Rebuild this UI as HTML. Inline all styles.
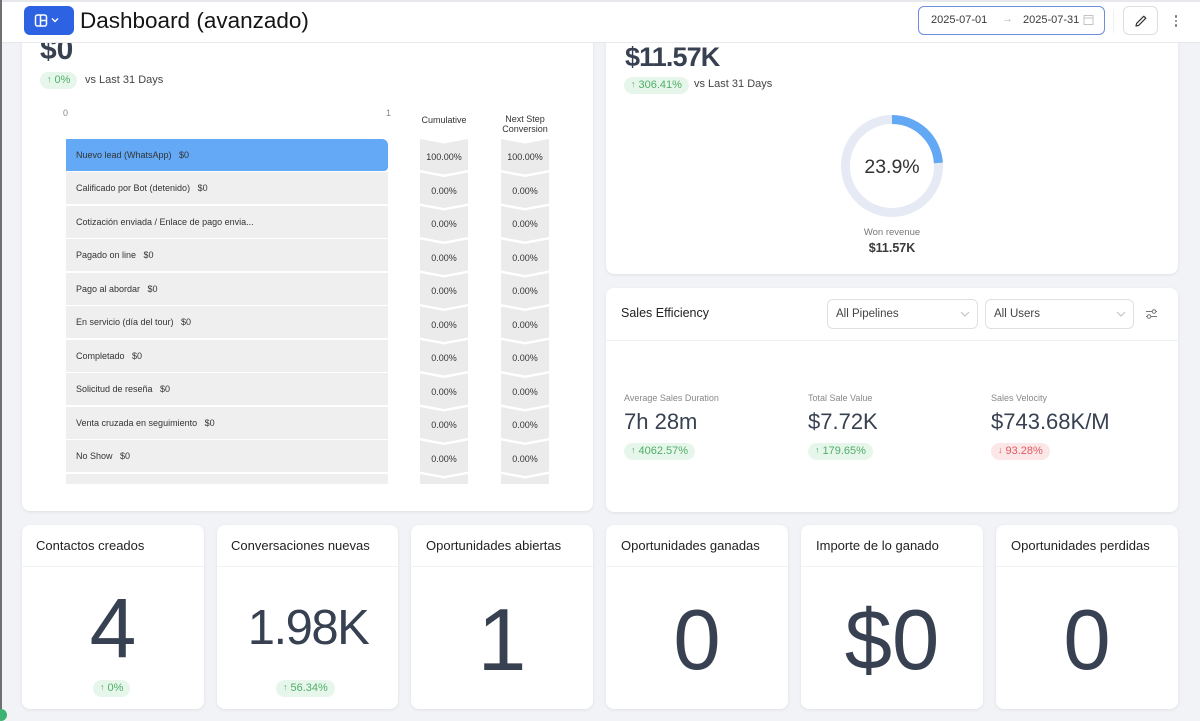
<!DOCTYPE html>
<html><head><meta charset="utf-8">
<style>
*{box-sizing:border-box;margin:0;padding:0}
body{width:1200px;height:717px;overflow:hidden;background:#f1f3f6;position:relative;font-family:"Liberation Sans",sans-serif;color:#333}
.abs{position:absolute}
.card{position:absolute;background:#fff;border-radius:8px;box-shadow:0 1px 3px rgba(0,0,0,0.08)}
.badge{position:absolute;height:17px;border-radius:9px;font-size:11px;line-height:17px;padding:0 7px;white-space:nowrap}
.g{background:#e7f6eb;color:#4fae67}
.r{background:#fce7e8;color:#e05a5f}
.ar{font-size:9px;position:relative;top:-1px;margin-right:3px}
.row{position:absolute;left:0;width:322px;height:32px;background:#efefef;font-size:9px;line-height:32px;padding-left:10px;color:#333;white-space:pre}
.pct{position:absolute;width:48px;text-align:center;font-size:9px;color:#333}
.bt{position:absolute;font-size:13px;color:#222;white-space:nowrap}
.bn{position:absolute;left:0;width:182px;text-align:center;line-height:1;color:#384152;white-space:nowrap}
.ml{position:absolute;font-size:9px;color:#888;white-space:nowrap}
.mv{position:absolute;font-size:22px;line-height:1;color:#374151;white-space:nowrap}
</style></head><body>

<!-- left edge line -->
<div class="abs" style="left:0;top:0;width:2px;height:717px;background:#707070;z-index:30"></div>
<div class="abs" style="left:-5px;top:709px;width:12px;height:12px;border-radius:50%;background:#3cb371;z-index:31"></div>

<!-- HEADER -->
<div class="abs" style="left:0;top:0;width:1200px;height:43px;background:#fff;border-bottom:1px solid #e6e8eb;z-index:10">
  <div class="abs" style="left:0;top:0;width:1200px;height:2px;background:#e6e8eb"></div>
  <div class="abs" style="left:24px;top:6px;width:50px;height:29px;background:#2d63e2;border-radius:6px">
    <svg class="abs" style="left:0;top:0" width="50" height="29">
      <rect x="11.5" y="9" width="11" height="11" rx="2" fill="none" stroke="#fff" stroke-width="1.5"/>
      <line x1="16.5" y1="9" x2="16.5" y2="20" stroke="#fff" stroke-width="1.5"/>
      <line x1="16.5" y1="14.5" x2="22.5" y2="14.5" stroke="#fff" stroke-width="1.5"/>
      <polyline points="28,12.5 31,15.5 34,12.5" fill="none" stroke="#fff" stroke-width="1.4"/>
    </svg>
  </div>
  <div class="abs" style="left:80px;top:7px;font-size:22.5px;line-height:27px;color:#151515;white-space:nowrap">Dashboard (avanzado)</div>

  <div class="abs" style="left:918px;top:6px;width:187px;height:29px;border:1px solid #6d8de0;border-radius:6px"></div>
  <div class="abs" style="left:931px;top:14px;font-size:11px;color:#3a3a3a;white-space:nowrap">2025-07-01</div>
  <div class="abs" style="left:1002px;top:13px;font-size:11px;color:#b0b0b0">→</div>
  <div class="abs" style="left:1023px;top:14px;font-size:11px;color:#3a3a3a;white-space:nowrap">2025-07-31</div>
  <svg class="abs" style="left:1083px;top:14px" width="12" height="13"><rect x="1" y="1.5" width="9" height="9" fill="none" stroke="#c4c4c4" stroke-width="1"/><line x1="1" y1="4" x2="10" y2="4" stroke="#c4c4c4"/></svg>

  <div class="abs" style="left:1113px;top:9px;width:1px;height:24px;background:#f0f0f0"></div>
  <div class="abs" style="left:1123px;top:6px;width:35px;height:29px;border:1px solid #dedede;border-radius:6px"></div>
  <svg class="abs" style="left:1133px;top:13px" width="16" height="16">
    <path d="M3 13 L3.6 10.4 L10.8 3.2 L12.8 5.2 L5.6 12.4 Z" fill="none" stroke="#333" stroke-width="1.2" stroke-linejoin="round"/>
  </svg>
  <div class="abs" style="left:1174.5px;top:15px;width:2.5px;height:2.5px;border-radius:50%;background:#777"></div>
  <div class="abs" style="left:1174.5px;top:19.5px;width:2.5px;height:2.5px;border-radius:50%;background:#777"></div>
  <div class="abs" style="left:1174.5px;top:24px;width:2.5px;height:2.5px;border-radius:50%;background:#777"></div>
</div>

<!-- FUNNEL CARD -->
<div class="card" style="left:22px;top:10px;width:571px;height:501px"></div>
<div class="abs" style="left:40px;top:34.6px;font-size:30px;line-height:30px;font-weight:bold;color:#374151">$0</div>
<div class="badge g" style="left:40px;top:72px"><span class="ar">↑</span>0%</div>
<div class="abs" style="left:85px;top:74px;font-size:11px;color:#444;white-space:nowrap">vs Last 31 Days</div>
<div class="abs" style="left:63px;top:108px;font-size:9px;color:#888">0</div>
<div class="abs" style="left:386px;top:108px;font-size:9px;color:#888">1</div>
<div class="abs" style="left:420px;top:115px;width:48px;text-align:center;font-size:9px;color:#333;white-space:nowrap">Cumulative</div>
<div class="abs" style="left:495px;top:115px;width:60px;text-align:center;font-size:9px;line-height:9.5px;color:#333">Next Step<br>Conversion</div>

<div class="abs" style="left:66px;top:138px;width:322px;height:346px;overflow:hidden">
  <div class="row" style="top:0.5px;background:#64a9f5;border-radius:0 6px 4px 0">Nuevo lead (WhatsApp)   $0</div>
  <div class="row" style="top:34px">Calificado por Bot (detenido)   $0</div>
  <div class="row" style="top:67.5px">Cotización enviada / Enlace de pago envia...</div>
  <div class="row" style="top:101px">Pagado on line   $0</div>
  <div class="row" style="top:134.5px">Pago al abordar   $0</div>
  <div class="row" style="top:168px">En servicio (día del tour)   $0</div>
  <div class="row" style="top:201.5px">Completado   $0</div>
  <div class="row" style="top:235px">Solicitud de reseña   $0</div>
  <div class="row" style="top:268.5px">Venta cruzada en seguimiento   $0</div>
  <div class="row" style="top:302px">No Show   $0</div>
  <div class="row" style="top:335.5px"></div>
</div>

<svg class="abs" style="left:420px;top:138px" width="48" height="346">
  <defs><polygon id="chev" points="0,0 24,4.5 48,0 48,31 24,35.5 0,31" fill="#ebebec"/></defs>
  <use href="#chev" y="1"/><use href="#chev" y="34.5"/><use href="#chev" y="68"/><use href="#chev" y="101.5"/>
  <use href="#chev" y="135"/><use href="#chev" y="168.5"/><use href="#chev" y="202"/><use href="#chev" y="235.5"/>
  <use href="#chev" y="269"/><use href="#chev" y="302.5"/><use href="#chev" y="336"/>
</svg>
<svg class="abs" style="left:501px;top:138px" width="48" height="346">
  <polygon points="0,0 24,4.5 48,0 48,31 24,35.5 0,31" fill="#ebebec" transform="translate(0,1)"/>
  <use href="#chev" y="34.5"/><use href="#chev" y="68"/><use href="#chev" y="101.5"/>
  <use href="#chev" y="135"/><use href="#chev" y="168.5"/><use href="#chev" y="202"/><use href="#chev" y="235.5"/>
  <use href="#chev" y="269"/><use href="#chev" y="302.5"/><use href="#chev" y="336"/>
</svg>

<div class="pct" style="left:420px;top:152px">100.00%</div><div class="pct" style="left:501px;top:152px">100.00%</div>
<div class="pct" style="left:420px;top:185.5px">0.00%</div><div class="pct" style="left:501px;top:185.5px">0.00%</div>
<div class="pct" style="left:420px;top:219px">0.00%</div><div class="pct" style="left:501px;top:219px">0.00%</div>
<div class="pct" style="left:420px;top:252.5px">0.00%</div><div class="pct" style="left:501px;top:252.5px">0.00%</div>
<div class="pct" style="left:420px;top:286px">0.00%</div><div class="pct" style="left:501px;top:286px">0.00%</div>
<div class="pct" style="left:420px;top:319.5px">0.00%</div><div class="pct" style="left:501px;top:319.5px">0.00%</div>
<div class="pct" style="left:420px;top:353px">0.00%</div><div class="pct" style="left:501px;top:353px">0.00%</div>
<div class="pct" style="left:420px;top:386.5px">0.00%</div><div class="pct" style="left:501px;top:386.5px">0.00%</div>
<div class="pct" style="left:420px;top:420px">0.00%</div><div class="pct" style="left:501px;top:420px">0.00%</div>
<div class="pct" style="left:420px;top:453.5px">0.00%</div><div class="pct" style="left:501px;top:453.5px">0.00%</div>

<!-- WON REVENUE CARD -->
<div class="card" style="left:606px;top:10px;width:572px;height:264px"></div>
<div class="abs" style="left:625px;top:43.6px;font-size:27px;line-height:27px;font-weight:bold;color:#374151;letter-spacing:-0.9px">$11.57K</div>
<div class="badge g" style="left:624px;top:77px"><span class="ar">↑</span>306.41%</div>
<div class="abs" style="left:694px;top:78px;font-size:11px;color:#444;white-space:nowrap">vs Last 31 Days</div>
<svg class="abs" style="left:832px;top:106px" width="120" height="120">
  <circle cx="60" cy="60" r="46.5" fill="none" stroke="#e6eaf5" stroke-width="9"/>
  <circle cx="60" cy="60" r="46.5" fill="none" stroke="#63a8f5" stroke-width="9" stroke-dasharray="69.8 400" transform="rotate(-90 60 60)"/>
  <text x="60" y="67" text-anchor="middle" font-family="Liberation Sans, sans-serif" font-size="19.5" fill="#333">23.9%</text>
</svg>
<div class="abs" style="left:792px;top:227px;width:200px;text-align:center;font-size:9.5px;color:#777">Won revenue</div>
<div class="abs" style="left:792px;top:241px;width:200px;text-align:center;font-size:12.5px;font-weight:bold;color:#3a3a3a">$11.57K</div>

<!-- SALES EFFICIENCY -->
<div class="card" style="left:606px;top:288px;width:572px;height:224px"></div>
<div class="abs" style="left:606px;top:340px;width:572px;height:1px;background:#f0f1f3"></div>
<div class="abs" style="left:621px;top:306px;font-size:12.5px;color:#222;white-space:nowrap">Sales Efficiency</div>
<div class="abs" style="left:827px;top:299px;width:151px;height:30px;border:1px solid #e0e0e0;border-radius:6px"></div>
<div class="abs" style="left:836px;top:307.5px;font-size:11.5px;color:#444">All Pipelines</div>
<svg class="abs" style="left:960px;top:310px" width="10" height="8"><polyline points="1,2 5,6 9,2" fill="none" stroke="#c0c0c0" stroke-width="1"/></svg>
<div class="abs" style="left:985px;top:299px;width:149px;height:30px;border:1px solid #e0e0e0;border-radius:6px"></div>
<div class="abs" style="left:994px;top:307.5px;font-size:11.5px;color:#444">All Users</div>
<svg class="abs" style="left:1116px;top:310px" width="10" height="8"><polyline points="1,2 5,6 9,2" fill="none" stroke="#c0c0c0" stroke-width="1"/></svg>
<svg class="abs" style="left:1145px;top:308px" width="13" height="12">
  <line x1="1" y1="3.5" x2="12" y2="3.5" stroke="#777" stroke-width="1"/>
  <circle cx="9" cy="3.5" r="1.8" fill="#fff" stroke="#777"/>
  <line x1="1" y1="8.5" x2="12" y2="8.5" stroke="#777" stroke-width="1"/>
  <circle cx="4" cy="8.5" r="1.8" fill="#fff" stroke="#777"/>
</svg>

<div class="ml" style="left:624px;top:393px">Average Sales Duration</div>
<div class="mv" style="left:624px;top:410.5px">7h 28m</div>
<div class="badge g" style="left:624px;top:443px"><span class="ar">↑</span>4062.57%</div>
<div class="ml" style="left:808px;top:393px">Total Sale Value</div>
<div class="mv" style="left:808px;top:410.5px">$7.72K</div>
<div class="badge g" style="left:808px;top:443px"><span class="ar">↑</span>179.65%</div>
<div class="ml" style="left:991px;top:393px">Sales Velocity</div>
<div class="mv" style="left:991px;top:410.5px">$743.68K/M</div>
<div class="badge r" style="left:991px;top:443px"><span class="ar">↓</span>93.28%</div>

<!-- BOTTOM CARDS -->
<div class="card" style="left:22px;top:525px;width:182px;height:184px">
  <div class="bt" style="left:14px;top:13px">Contactos creados</div>
  <div class="abs" style="left:0;top:41px;width:182px;height:1px;background:#f1f2f4"></div>
  <div class="bn" style="top:61px;font-size:84px">4</div>
  <div class="badge g" style="left:71px;top:155px"><span class="ar">↑</span>0%</div>
</div>
<div class="card" style="left:217px;top:525px;width:181px;height:184px">
  <div class="bt" style="left:14px;top:13px">Conversaciones nuevas</div>
  <div class="abs" style="left:0;top:41px;width:182px;height:1px;background:#f1f2f4"></div>
  <div class="bn" style="top:78.5px;font-size:49px;letter-spacing:-1.5px">1.98K</div>
  <div class="badge g" style="left:59px;top:155px"><span class="ar">↑</span>56.34%</div>
</div>
<div class="card" style="left:411px;top:525px;width:182px;height:184px">
  <div class="bt" style="left:15px;top:13px">Oportunidades abiertas</div>
  <div class="abs" style="left:0;top:41px;width:182px;height:1px;background:#f1f2f4"></div>
  <div class="bn" style="top:70.5px;font-size:88px">1</div>
</div>
<div class="card" style="left:606px;top:525px;width:182px;height:184px">
  <div class="bt" style="left:15px;top:13px">Oportunidades ganadas</div>
  <div class="abs" style="left:0;top:41px;width:182px;height:1px;background:#f1f2f4"></div>
  <div class="bn" style="top:73px;font-size:85px">0</div>
</div>
<div class="card" style="left:801px;top:525px;width:182px;height:184px">
  <div class="bt" style="left:15px;top:13px">Importe de lo ganado</div>
  <div class="abs" style="left:0;top:41px;width:182px;height:1px;background:#f1f2f4"></div>
  <div class="bn" style="top:73px;font-size:85px">$0</div>
</div>
<div class="card" style="left:996px;top:525px;width:182px;height:184px">
  <div class="bt" style="left:15px;top:13px">Oportunidades perdidas</div>
  <div class="abs" style="left:0;top:41px;width:182px;height:1px;background:#f1f2f4"></div>
  <div class="bn" style="top:73px;font-size:85px">0</div>
</div>

</body></html>
